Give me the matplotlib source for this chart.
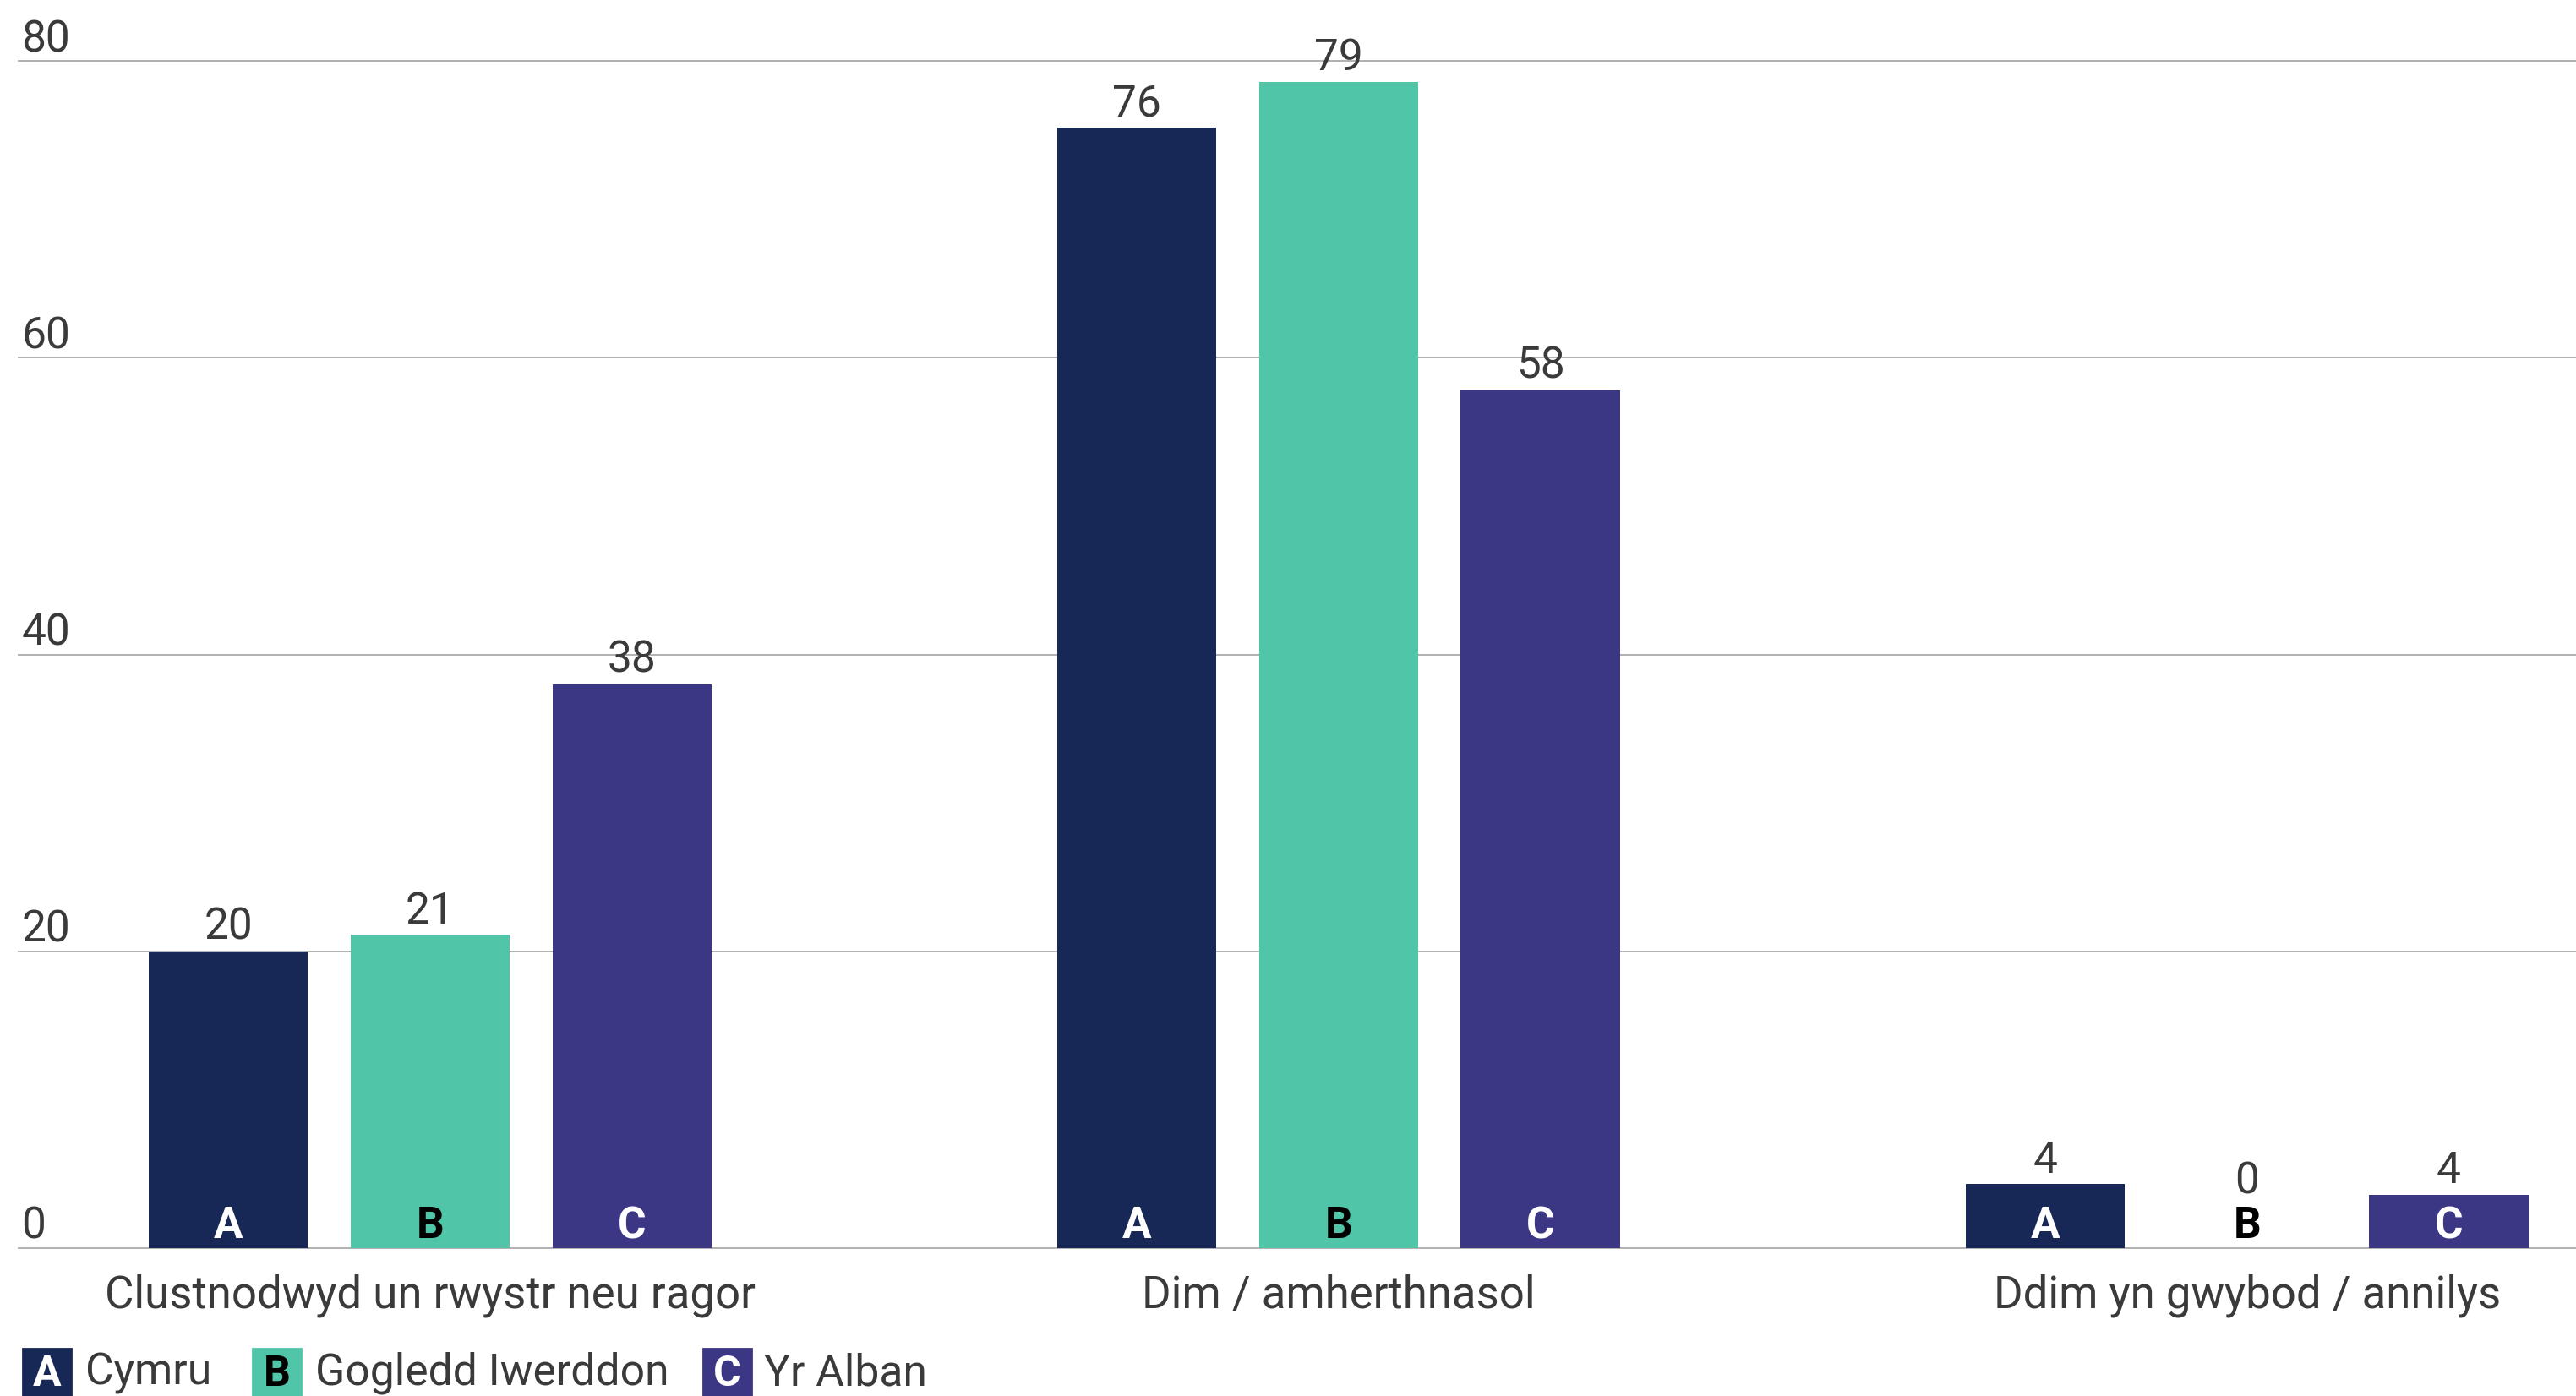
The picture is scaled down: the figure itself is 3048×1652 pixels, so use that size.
import matplotlib
matplotlib.use("Agg")
import matplotlib.pyplot as plt
from matplotlib.patches import Rectangle

# ---------------- data ----------------
categories = ["Clustnodwyd un rwystr neu ragor", "Dim / amherthnasol", "Ddim yn gwybod / annilys"]
series_names = ["Cymru", "Gogledd Iwerddon", "Yr Alban"]
series_letters = ["A", "B", "C"]
cymru = [20.0, 75.5, 4.3]
gogledd_iwerddon = [21.1, 78.6, 0.0]
yr_alban = [38.0, 57.8, 3.6]
y_ticks = [0, 20, 40, 60, 80]

series_values = [cymru, gogledd_iwerddon, yr_alban]
colors = ["#172856", "#50C5A8", "#3C3785"]
letter_colors = ["white", "black", "white"]

FONT = ["Roboto", "DejaVu Sans"]
plt.rcParams["font.family"] = FONT
TEXT = "#3a3a3a"

W, H, DPI = 3048, 1652, 200
fig = plt.figure(figsize=(W / DPI, H / DPI), dpi=DPI)
ax_left, ax_right = 22 / W, 1.0
ax_bottom, ax_top = 1 - 1477 / H, 1 - 72 / H
ax = fig.add_axes([ax_left, ax_bottom, ax_right - ax_left, ax_top - ax_bottom])

bar_w = 0.175
offset = 0.222
x = list(range(len(categories)))

for s, vals in enumerate(series_values):
    xs = [xi + (s - 1) * offset for xi in x]
    ax.bar(xs, vals, width=bar_w, color=colors[s], zorder=3)
    for xi, v in zip(xs, vals):
        # value label above bar (minimum height so it clears the letter)
        ax.annotate(f"{v:.0f}", xy=(xi, max(v, 2.9)), xytext=(0, 5.0),
                    textcoords="offset points", ha="center", va="baseline",
                    fontsize=18.5, color=TEXT, zorder=5, annotation_clip=False)
        # series letter at base of bar
        ax.annotate(series_letters[s], xy=(xi, 0), xytext=(0, 4.3),
                    textcoords="offset points", ha="center", va="baseline",
                    fontsize=18.5, fontweight="bold", color=letter_colors[s], zorder=5)

ax.set_xlim(-0.453, 2.362)
ax.set_ylim(0, 80)

for t in y_ticks:
    ax.axhline(t, color="#b0b0b0", lw=0.7, zorder=1, clip_on=False)

ax.set_yticks(y_ticks)
ax.set_yticklabels([str(t) for t in y_ticks])
for lab in ax.get_yticklabels():
    lab.set_ha("left")
    lab.set_va("bottom")
    lab.set_fontsize(18.5)
    lab.set_color(TEXT)
ax.tick_params(axis="y", length=0, pad=-1.2)

ax.set_xticks(x)
ax.set_xticklabels(categories, fontsize=19, color=TEXT)
ax.tick_params(axis="x", length=0, pad=11)

for sp in ax.spines.values():
    sp.set_visible(False)

# ---------------- legend ----------------
box_w, box_h = 57 / W, 56 / H
box_y = 1 - 1652 / H
legend_x = [27, 299, 832]
text_x = [101, 373, 904]
for i in range(3):
    fig.patches.append(Rectangle((legend_x[i] / W, box_y), box_w, box_h,
                                 transform=fig.transFigure, color=colors[i]))
    fig.text((legend_x[i] + 28.5) / W, 1 - 1626 / H, series_letters[i], ha="center", va="center",
             fontsize=18, fontweight="bold", color=letter_colors[i])
    fig.text(text_x[i] / W, 1 - 1625 / H, series_names[i], ha="left", va="center",
             fontsize=18.6, color=TEXT)

fig.savefig("out.png", dpi=DPI)
